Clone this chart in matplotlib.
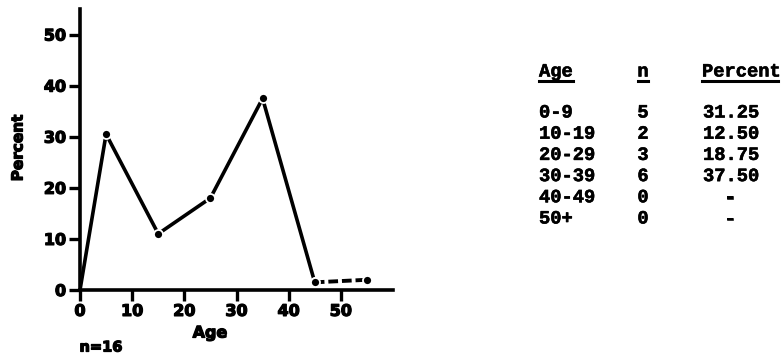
import numpy as np
import matplotlib
matplotlib.use("Agg")
import matplotlib.pyplot as plt
import matplotlib.patheffects as pe
from matplotlib.lines import Line2D

# values (midpoint of each age group)
ages = [0, 5, 15, 25, 35, 45]
percent = [0, 30.5, 11, 18, 37.5, 1.5]
tail_ages = [45, 55]
tail_percent = [1.5, 2]

# table beside the plot
age_groups = ["0-9", "10-19", "20-29", "30-39", "40-49", "50+"]
counts = ["5", "2", "3", "6", "0", "0"]
pcts = ["31.25", "12.50", "18.75", "37.50", "-", "-"]

W, H = 782, 358
fig = plt.figure(figsize=(W / 100, H / 100), dpi=100)
ax = fig.add_axes([80 / W, 68 / H, 313 / W, 281 / H])

heavy = [pe.withStroke(linewidth=0.9, foreground="black")]

ax.plot(ages, percent, color="black", lw=2.6, solid_capstyle="round", solid_joinstyle="round")
ax.plot(ages[1:], percent[1:], "o", color="black", ms=6.5, mec="white", mew=1.3)
ax.plot(tail_ages, tail_percent, color="black", lw=2.8, ls=(0, (2.5, 1)))
ax.plot(tail_ages, tail_percent, "o", color="black", ms=6.5, mec="white", mew=1.3)

ax.set_xlim(0, 60)
ax.set_ylim(0, 55)
ax.set_xticks([0, 10, 20, 30, 40, 50])
ax.set_yticks([0, 10, 20, 30, 40, 50])
for s in ["top", "right"]:
    ax.spines[s].set_visible(False)
for s in ["left", "bottom"]:
    ax.spines[s].set_linewidth(2.6)
ax.tick_params(axis="both", length=8, width=2.4, direction="out", pad=2)
for lab in ax.get_xticklabels() + ax.get_yticklabels():
    lab.set_fontweight("bold")
    lab.set_fontsize(11.5)
    lab.set_path_effects(heavy)

bold = dict(fontweight="bold", family="DejaVu Sans", path_effects=heavy)
fig.text(18 / W, 1 - 148 / H, "Percent", rotation=90, ha="center", va="center", fontsize=11, **bold)
fig.text(210 / W, 1 - 333 / H, "Age", ha="center", va="center", fontsize=11.5, **bold)
fig.text(101 / W, 1 - 347 / H, "n=16", ha="center", va="center", fontsize=10.5, **bold)

# typed table
mono = dict(family="Liberation Mono", fontweight="bold", fontsize=13.5, va="center",
            path_effects=[pe.withStroke(linewidth=0.4, foreground="black")])
hy = 1 - 72 / H
fig.text(539 / W, hy, "Age", ha="left", **mono)
fig.text(643 / W, hy, "n", ha="center", **mono)
fig.text(702 / W, hy, "Percent", ha="left", **mono)
for x0, x1 in [(539, 573), (638, 648), (702, 778)]:
    fig.add_artist(Line2D([x0 / W, x1 / W], [1 - 81 / H] * 2, color="black", lw=2.2))

for i, (g, n, p) in enumerate(zip(age_groups, counts, pcts)):
    y = 1 - (113 + 21.2 * i) / H
    fig.text(539 / W, y, g, ha="left", **mono)
    fig.text(643 / W, y, n, ha="center", **mono)
    if p == "-":
        fig.text(730 / W, y, p, ha="center", **mono)
    else:
        fig.text(703 / W, y, p, ha="left", **mono)

fig.savefig("out.png", dpi=100, facecolor="white")
